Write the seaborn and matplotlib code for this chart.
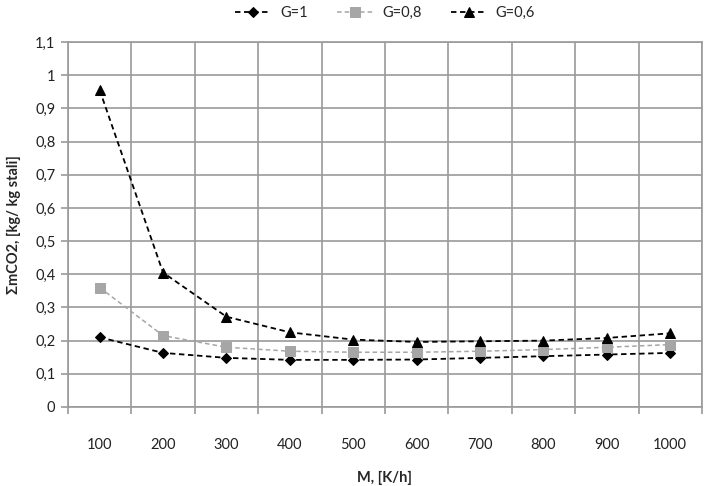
import matplotlib.pyplot as plt
import seaborn as sns
import pandas as pd
import numpy as np

m_values = [100, 200, 300, 400, 500, 600, 700, 800, 900, 1000]
g_1 = [0.21, 0.163, 0.148, 0.142, 0.142, 0.143, 0.148, 0.153, 0.158, 0.163]
g_08 = [0.36, 0.215, 0.18, 0.168, 0.165, 0.165, 0.168, 0.173, 0.18, 0.188]
g_06 = [0.955, 0.405, 0.272, 0.225, 0.203, 0.196, 0.198, 0.2, 0.208, 0.222]
series_names = ["G=1", "G=0,8", "G=0,6"]
y_ticks = [0, 0.1, 0.2, 0.3, 0.4, 0.5, 0.6, 0.7, 0.8, 0.9, 1.0, 1.1]

df = pd.DataFrame(
    {
        "M": m_values * 3,
        "val": g_1 + g_08 + g_06,
        "G": [series_names[0]] * 10 + [series_names[1]] * 10 + [series_names[2]] * 10,
    }
)

sns.set_style("white")
plt.rcParams["font.family"] = ["Lato", "DejaVu Sans"]

fig = plt.figure(figsize=(7.17, 4.86), dpi=100)
ax = fig.add_axes([0.0948, 0.1626, 0.8842, 0.751])

palette = {"G=1": "black", "G=0,8": "#a6a6a6", "G=0,6": "black"}
markers = {"G=1": "D", "G=0,8": "s", "G=0,6": "^"}
sizes = {"G=1": 5.5, "G=0,8": 7, "G=0,6": 7}

for name in series_names:
    sub = df[df["G"] == name]
    sns.lineplot(
        data=sub,
        x="M",
        y="val",
        ax=ax,
        color=palette[name],
        marker=markers[name],
        markersize=sizes[name],
        markeredgecolor=palette[name],
        linestyle=(0, (3, 2)),
        linewidth=1.3 if name != "G=0,8" else 1.1,
        label=name,
    )

ax.set_xlim(50, 1050)
ax.set_ylim(0, 1.1)
ax.set_xticks(m_values)
ax.set_xticklabels([str(v) for v in m_values])
ax.set_xticks(np.arange(50, 1051, 100), minor=True)
ax.set_yticks(y_ticks)
ax.set_yticklabels(["0" if v == 0 else ("1" if v == 1 else f"{v:.1f}".replace(".", ",")) for v in y_ticks])

grid_c = "#9a9a9a"
ax.grid(True, which="minor", axis="x", color=grid_c, linewidth=1.2)
ax.grid(True, which="major", axis="y", color=grid_c, linewidth=1.2)
ax.grid(False, which="major", axis="x")
for s in ax.spines.values():
    s.set_color(grid_c)
    s.set_linewidth(1.2)

ax.tick_params(axis="x", which="major", length=0, pad=22, labelsize=10.5, colors="#222222")
ax.tick_params(axis="x", which="minor", length=5, width=1.2, color=grid_c, direction="out", bottom=True)
ax.tick_params(axis="y", which="major", length=5, width=1.2, color=grid_c, direction="out", left=True, labelsize=10.5, labelcolor="#222222", pad=4)

ax.set_xlabel("M, [K/h]", fontsize=10.5, fontweight="bold", labelpad=14)
ax.set_ylabel("ΣmCO2, [kg/ kg stali]", fontsize=10.5, fontweight="bold", labelpad=10)

ax.legend(
    loc="lower center",
    bbox_to_anchor=(0.5, 1.025),
    ncol=3,
    frameon=False,
    fontsize=10.5,
    handlelength=2.5,
    handletextpad=0.6,
    columnspacing=2.0,
)

fig.savefig("out.png", dpi=100)
